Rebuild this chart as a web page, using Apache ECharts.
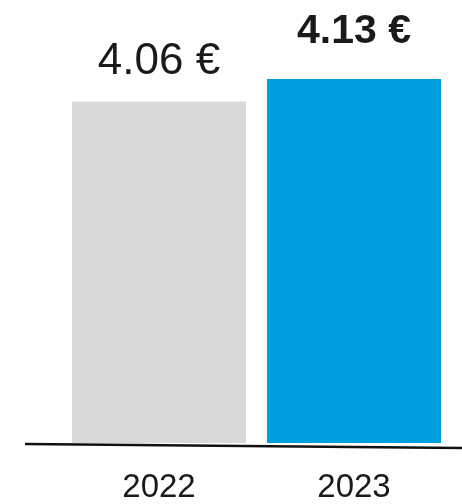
<!DOCTYPE html>
<html>
<head>
<meta charset="utf-8">
<script src="https://cdn.jsdelivr.net/npm/echarts@6/dist/echarts.min.js"></script>
<style>
  html, body { margin: 0; padding: 0; background: #fff; }
  #chart { width: 462px; height: 504px; }
</style>
</head>
<body>
<div id="chart"></div>
<script>
// data
const years = ["2022", "2023"];
const prices = [4.06, 4.13];
const priceLabels = ["4.06 €", "4.13 €"];
const barColors = ["#d9d9d9", "#009fe0"];

let myChart = echarts.init(document.getElementById("chart"));

let seriesData = prices.map((v, i) => {
  let last = i === prices.length - 1;
  return {
    value: v,
    itemStyle: { color: barColors[i] },
    label: {
      formatter: priceLabels[i],
      fontSize: last ? 41 : 44,
      fontWeight: last ? "bold" : "normal",
      lineHeight: last ? 40 : 44,
      distance: last ? 27 : 18,
    },
  };
});

let option = {
  animation: false,
  grid: { left: 61.5, right: 10.5, top: 0, bottom: 57 },
  xAxis: {
    type: "category",
    data: years,
    axisLine: { show: false },
    axisTick: { show: false },
    axisLabel: {
      color: "#1a1a1a",
      fontSize: 33,
      fontFamily: "Liberation Sans",
      margin: 28,
    },
  },
  yAxis: {
    type: "value",
    min: 3,
    max: 4.375,
    show: false,
    splitLine: { show: false },
  },
  series: [
    {
      type: "bar",
      data: seriesData,
      barWidth: 174,
      label: {
        show: true,
        position: "top",
        color: "#1a1a1a",
        fontFamily: "Liberation Sans",
      },
    },
  ],
  graphic: [
    {
      type: "line",
      shape: { x1: 25, y1: 444, x2: 462, y2: 448 },
      style: { stroke: "#111", lineWidth: 2.5 },
      z: 10,
    },
  ],
};

option && myChart.setOption(option);
</script>
</body>
</html>
